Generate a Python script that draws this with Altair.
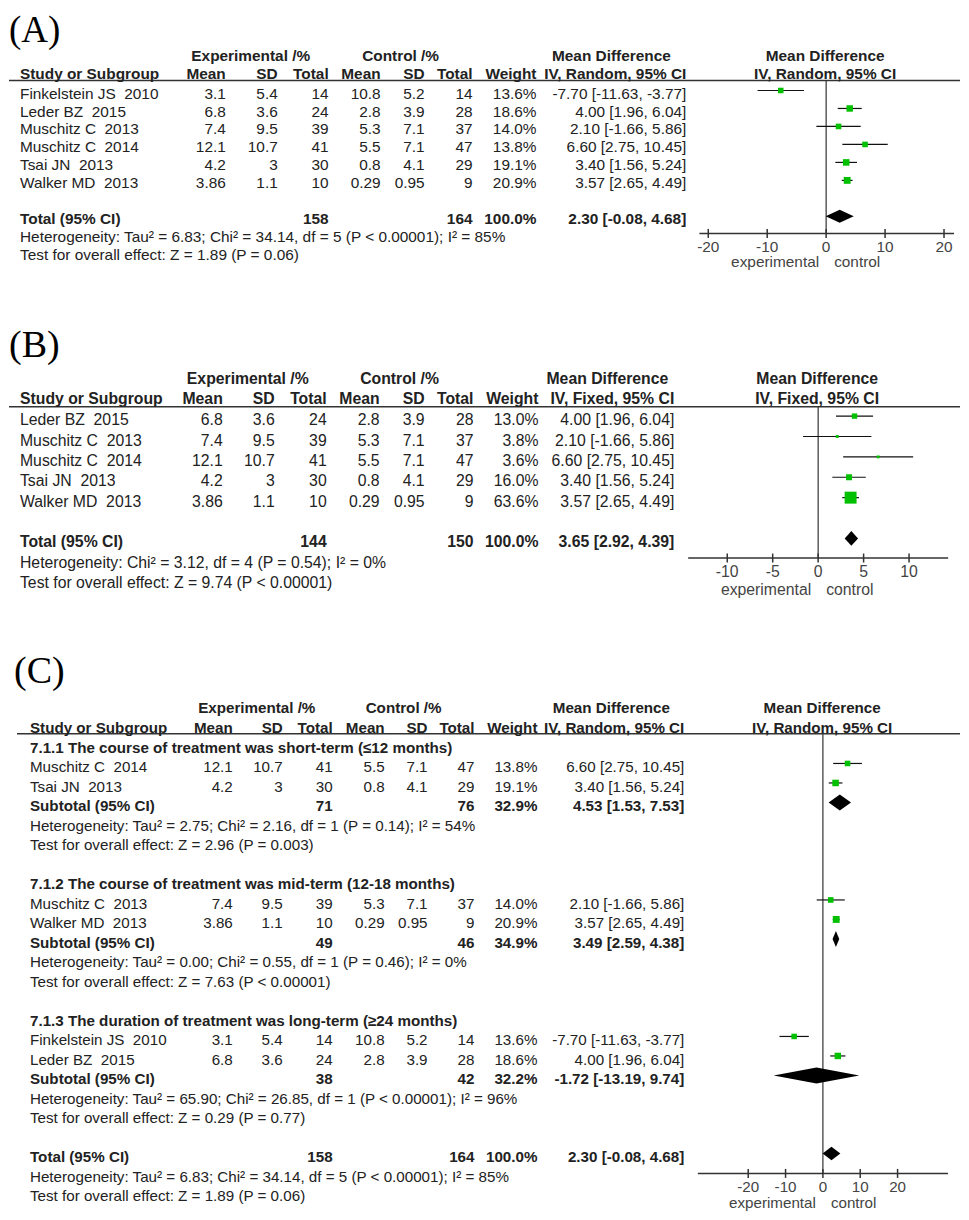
import altair as alt
import pandas as pd

# ---------------- values ----------------
NB = "\u00a0"
STUDY = ["Finkelstein JS" + NB + " 2010", "Leder BZ" + NB + " 2015", "Muschitz C" + NB + " 2013",
         "Muschitz C" + NB + " 2014", "Tsai JN" + NB + " 2013", "Walker MD" + NB + " 2013"]
EXP_MEAN = ["3.1", "6.8", "7.4", "12.1", "4.2", "3.86"]
EXP_SD = ["5.4", "3.6", "9.5", "10.7", "3", "1.1"]
EXP_N = [14, 24, 39, 41, 30, 10]
CTL_MEAN = ["10.8", "2.8", "5.3", "5.5", "0.8", "0.29"]
CTL_SD = ["5.2", "3.9", "7.1", "7.1", "4.1", "0.95"]
CTL_N = [14, 28, 37, 47, 29, 9]
MD = [-7.70, 4.00, 2.10, 6.60, 3.40, 3.57]
MD_LO = [-11.63, 1.96, -1.66, 2.75, 1.56, 2.65]
MD_HI = [-3.77, 6.04, 5.86, 10.45, 5.24, 4.49]
WEIGHT_RANDOM = [13.6, 18.6, 14.0, 13.8, 19.1, 20.9]

ORDER_A = [0, 1, 2, 3, 4, 5]
ORDER_B = [1, 2, 3, 4, 5]
WEIGHT_FIXED_B = [13.0, 3.8, 3.6, 16.0, 63.6]

TOTAL_A = dict(en=158, cn=164, w=100.0, md=2.30, lo=-0.08, hi=4.68)
HET_A = "Heterogeneity: Tau² = 6.83; Chi² = 34.14, df = 5 (P < 0.00001); I² = 85%"
TEST_A = "Test for overall effect: Z = 1.89 (P = 0.06)"

TOTAL_B = dict(en=144, cn=150, w=100.0, md=3.65, lo=2.92, hi=4.39)
HET_B = "Heterogeneity: Chi² = 3.12, df = 4 (P = 0.54); I² = 0%"
TEST_B = "Test for overall effect: Z = 9.74 (P < 0.00001)"

SUB_TITLE_C = ["7.1.1 The course of treatment was short-term (≤12 months)",
               "7.1.2 The course of treatment was mid-term (12-18 months)",
               "7.1.3 The duration of treatment was long-term (≥24 months)"]
SUB_MEMBERS_C = [[3, 4], [2, 5], [0, 1]]
SUB_EN_C = [71, 49, 38]
SUB_CN_C = [76, 46, 42]
SUB_W_C = [32.9, 34.9, 32.2]
SUB_MD_C = [4.53, 3.49, -1.72]
SUB_LO_C = [1.53, 2.59, -13.19]
SUB_HI_C = [7.53, 4.38, 9.74]
SUB_HET_C = ["Heterogeneity: Tau² = 2.75; Chi² = 2.16, df = 1 (P = 0.14); I² = 54%",
             "Heterogeneity: Tau² = 0.00; Chi² = 0.55, df = 1 (P = 0.46); I² = 0%",
             "Heterogeneity: Tau² = 65.90; Chi² = 26.85, df = 1 (P < 0.00001); I² = 96%"]
SUB_TEST_C = ["Test for overall effect: Z = 2.96 (P = 0.003)",
              "Test for overall effect: Z = 7.63 (P < 0.00001)",
              "Test for overall effect: Z = 0.29 (P = 0.77)"]

TICKS_20 = [-20, -10, 0, 10, 20]
TICKS_10 = [-10, -5, 0, 5, 10]

# ---------------- styling ----------------
SANS = "Liberation Sans"
SERIF = "Liberation Serif"
INK = "#222222"
GREY = "#444444"
GREEN = "#00C000"
M = 8  # page margin


def fmt_ci(m, lo, hi):
    return f"{m:.2f} [{lo:.2f}, {hi:.2f}]"


def cell(row, col, text, bold=False):
    return dict(row=row, col=col, text=str(text), bold=bold)


def study_cells(i, row, w):
    return [cell(row, "study", STUDY[i]), cell(row, "em", EXP_MEAN[i]),
            cell(row, "esd", EXP_SD[i]), cell(row, "en", EXP_N[i]),
            cell(row, "cm", CTL_MEAN[i]), cell(row, "csd", CTL_SD[i]),
            cell(row, "cn", CTL_N[i]), cell(row, "w", f"{w:.1f}%"),
            cell(row, "ci", fmt_ci(MD[i], MD_LO[i], MD_HI[i]))]


def pooled_cells(row, name, en, cn, w, md, lo, hi):
    return [cell(row, "study", name, True), cell(row, "en", en, True),
            cell(row, "cn", cn, True), cell(row, "w", f"{w:.1f}%", True),
            cell(row, "ci", fmt_ci(md, lo, hi), True)]


def header_cells(r1, r2, method):
    return [cell(r1, "h_exp", "Experimental /%", True), cell(r1, "h_ctl", "Control /%", True),
            cell(r1, "h_md", "Mean Difference", True), cell(r1, "h_f", "Mean Difference", True),
            cell(r2, "study", "Study or Subgroup", True), cell(r2, "em", "Mean", True),
            cell(r2, "esd", "SD", True), cell(r2, "en", "Total", True),
            cell(r2, "cm", "Mean", True), cell(r2, "csd", "SD", True),
            cell(r2, "cn", "Total", True), cell(r2, "w", "Weight", True),
            cell(r2, "ci", method, True), cell(r2, "h_f", method, True)]


def build_panel(p):
    top, r0y, dy = p["top"], p["row0"], p["step"]

    def R(page_y):
        return (page_y - r0y) / dy

    ys = alt.Scale(domain=[0, 10], range=[r0y - top, r0y - top + 10 * dy])
    xs = alt.Scale(domain=list(p["xdom"]), range=[p["xpx"][0] - M, p["xpx"][1] - M])
    one = pd.DataFrame({"k": [0]})
    fs = p["fs"]
    layers = []

    # panel letter
    layers.append(alt.Chart(one).mark_text(
        align="left", baseline="alphabetic", font=SERIF, fontSize=p["label_fs"], color="#000",
        text=p["label"]).encode(
        x=alt.value(p["label_x"] - M),
        y=alt.YDatum(R(p["label_base"]), scale=ys, axis=None)))

    # header rule
    layers.append(alt.Chart(one).mark_rule(color="#333333", strokeWidth=1.5).encode(
        x=alt.value(p["line_x"][0] - M), x2=alt.value(p["line_x"][1] - M),
        y=alt.YDatum(R(p["line_y"]), scale=ys, axis=None)))

    # table text
    cells = pd.DataFrame(header_cells(R(p["h1_y"]), R(p["h2_y"]), p["method"]) + p["cells"])
    for (col, bold), sub in cells.groupby(["col", "bold"], sort=False):
        xp, al = p["cols"][col]
        layers.append(alt.Chart(sub[["row", "text"]]).mark_text(
            align=al, baseline="middle", font=SANS, fontSize=fs,
            fontWeight="bold" if bold else "normal", color=INK).encode(
            x=alt.value(xp - M),
            y=alt.Y("row:Q", scale=ys, axis=None),
            text="text:N"))

    # zero line
    layers.append(alt.Chart(one).mark_rule(color="#333333", strokeWidth=1.2).encode(
        x=alt.XDatum(0, scale=xs, axis=None),
        y=alt.YDatum(R(p["line_y"]), scale=ys, axis=None),
        y2=alt.Y2Datum(R(p["axis_y"]))))

    # axis line, ticks, labels
    layers.append(alt.Chart(one).mark_rule(color="#333333", strokeWidth=1.5).encode(
        x=alt.XDatum(p["axis_dom"][0], scale=xs, axis=None),
        x2=alt.X2Datum(p["axis_dom"][1]),
        y=alt.YDatum(R(p["axis_y"]), scale=ys, axis=None)))
    ticks = pd.DataFrame({"v": p["ticks"], "lab": [str(t) for t in p["ticks"]]})
    layers.append(alt.Chart(ticks).mark_rule(color="#333333", strokeWidth=1.5).encode(
        x=alt.X("v:Q", scale=xs, axis=None),
        y=alt.YDatum(R(p["axis_y"] - 4.5), scale=ys, axis=None),
        y2=alt.Y2Datum(R(p["axis_y"] + 4.5))))
    layers.append(alt.Chart(ticks).mark_text(
        baseline="middle", font=SANS, fontSize=fs, color=GREY).encode(
        x=alt.X("v:Q", scale=xs, axis=None),
        y=alt.YDatum(R(p["ticklab_y"]), scale=ys, axis=None),
        text="lab:N"))
    for txt, al, dx in [("experimental", "right", -7), ("control", "left", 8)]:
        layers.append(alt.Chart(one).mark_text(
            align=al, dx=dx, baseline="middle", font=SANS, fontSize=fs, color=GREY,
            text=txt).encode(
            x=alt.XDatum(0, scale=xs, axis=None),
            y=alt.YDatum(R(p["exp_y"]), scale=ys, axis=None)))

    # study CIs and weighted squares
    fr = pd.DataFrame(p["forest"])
    base = alt.Chart(fr).transform_calculate(ym=f"datum.row - {p['shift']}")
    layers.append(base.mark_rule(color="#111111", strokeWidth=1.2).encode(
        x=alt.X("lo:Q", scale=xs, axis=None), x2="hi:Q",
        y=alt.Y("ym:Q", scale=ys, axis=None)))
    layers.append(base.mark_square(filled=True, color=GREEN, opacity=1).encode(
        x=alt.X("md:Q", scale=xs, axis=None),
        y=alt.Y("ym:Q", scale=ys, axis=None),
        size=alt.Size("w:Q", scale=alt.Scale(domain=[0, 100], range=[0, p["smax"]]),
                      legend=None)))

    # pooled diamonds
    dv = []
    for k, d in enumerate(p["diamonds"]):
        rc = d["row"] - p["shift"]
        hh = d["half"] / dy
        dv += [dict(id=k, x=d["lo"], ya=rc, yb=rc),
               dict(id=k, x=d["md"], ya=rc - hh, yb=rc + hh),
               dict(id=k, x=d["hi"], ya=rc, yb=rc)]
    layers.append(alt.Chart(pd.DataFrame(dv)).mark_area(
        color="#000000", opacity=1, interpolate="linear").encode(
        x=alt.X("x:Q", scale=xs, axis=None),
        y=alt.Y("ya:Q", scale=ys, axis=None, stack=None),
        y2="yb:Q",
        detail="id:N"))

    return alt.layer(*layers).properties(width=953, height=p["height"])


# ---------------- panel A ----------------
cells_A, forest_A = [], []
for r, i in enumerate(ORDER_A):
    cells_A += study_cells(i, r, WEIGHT_RANDOM[i])
    forest_A.append(dict(row=r, md=MD[i], lo=MD_LO[i], hi=MD_HI[i], w=WEIGHT_RANDOM[i]))
cells_A += pooled_cells(7, "Total (95% CI)", **TOTAL_A)
cells_A += [cell(8, "study", HET_A), cell(9, "study", TEST_A)]

panel_A = dict(
    label="(A)", label_x=8, label_base=41.5, label_fs=37, top=8, height=310, row0=93, step=18,
    fs=15.4, method="IV, Random, 95% CI",
    cols={"study": (19, "left"), "em": (225, "right"), "esd": (277, "right"),
          "en": (328, "right"), "cm": (380, "right"), "csd": (424, "right"),
          "cn": (472, "right"), "w": (536, "right"), "ci": (686, "right"),
          "h_exp": (250, "center"), "h_ctl": (400, "center"), "h_md": (611, "center"),
          "h_f": (825, "center")},
    h1_y=55, h2_y=73, line_y=80, line_x=(8, 960),
    xdom=(-20, 20), xpx=(708, 944), axis_dom=(-21.5, 21.7), ticks=TICKS_20,
    axis_y=233, ticklab_y=247, exp_y=262, shift=0.17, smax=225,
    cells=cells_A, forest=forest_A,
    diamonds=[dict(row=7, md=TOTAL_A["md"], lo=TOTAL_A["lo"], hi=TOTAL_A["hi"], half=6.5)],
)

# ---------------- panel B ----------------
cells_B, forest_B = [], []
for r, (i, w) in enumerate(zip(ORDER_B, WEIGHT_FIXED_B)):
    cells_B += study_cells(i, r, w)
    forest_B.append(dict(row=r, md=MD[i], lo=MD_LO[i], hi=MD_HI[i], w=w))
cells_B += pooled_cells(6, "Total (95% CI)", **TOTAL_B)
cells_B += [cell(7, "study", HET_B), cell(8, "study", TEST_B)]

panel_B = dict(
    label="(B)", label_x=8, label_base=357, label_fs=38, top=318, height=322, row0=420,
    step=20.4, fs=15.8, method="IV, Fixed, 95% CI",
    cols={"study": (19, "left"), "em": (222, "right"), "esd": (274, "right"),
          "en": (326, "right"), "cm": (379, "right"), "csd": (424, "right"),
          "cn": (473, "right"), "w": (538, "right"), "ci": (674, "right"),
          "h_exp": (247, "center"), "h_ctl": (399, "center"), "h_md": (607, "center"),
          "h_f": (817, "center")},
    h1_y=379, h2_y=399, line_y=406.5, line_x=(8, 960),
    xdom=(-10, 10), xpx=(727, 909), axis_dom=(-14.3, 14.3), ticks=TICKS_10,
    axis_y=558, ticklab_y=572, exp_y=590, shift=0.2, smax=353,
    cells=cells_B, forest=forest_B,
    diamonds=[dict(row=6, md=TOTAL_B["md"], lo=TOTAL_B["lo"], hi=TOTAL_B["hi"], half=7.3)],
)

# ---------------- panel C ----------------
cells_C, forest_C, diamonds_C = [], [], []
for g in range(3):
    b = 7 * g
    cells_C.append(cell(b, "study", SUB_TITLE_C[g], True))
    for j, i in enumerate(SUB_MEMBERS_C[g]):
        cells_C += study_cells(i, b + 1 + j, WEIGHT_RANDOM[i])
        forest_C.append(dict(row=b + 1 + j, md=MD[i], lo=MD_LO[i], hi=MD_HI[i], w=WEIGHT_RANDOM[i]))
    cells_C += pooled_cells(b + 3, "Subtotal (95% CI)", SUB_EN_C[g], SUB_CN_C[g], SUB_W_C[g],
                            SUB_MD_C[g], SUB_LO_C[g], SUB_HI_C[g])
    cells_C += [cell(b + 4, "study", SUB_HET_C[g]), cell(b + 5, "study", SUB_TEST_C[g])]
    diamonds_C.append(dict(row=b + 3, md=SUB_MD_C[g], lo=SUB_LO_C[g], hi=SUB_HI_C[g], half=8))
cells_C += pooled_cells(21, "Total (95% CI)", **TOTAL_A)
cells_C += [cell(22, "study", HET_A), cell(23, "study", TEST_A)]
diamonds_C.append(dict(row=21, md=TOTAL_A["md"], lo=TOTAL_A["lo"], hi=TOTAL_A["hi"], half=6.7))

panel_C = dict(
    label="(C)", label_x=13, label_base=683, label_fs=38, top=640, height=572, row0=748,
    step=19.52, fs=15.2, method="IV, Random, 95% CI",
    cols={"study": (29, "left"), "em": (232, "right"), "esd": (282, "right"),
          "en": (332, "right"), "cm": (384, "right"), "csd": (427, "right"),
          "cn": (474, "right"), "w": (537, "right"), "ci": (684, "right"),
          "h_exp": (256, "center"), "h_ctl": (403, "center"), "h_md": (611, "center"),
          "h_f": (822, "center")},
    h1_y=708, h2_y=728, line_y=734, line_x=(16, 960),
    xdom=(-20, 20), xpx=(748, 897.5), axis_dom=(-33.5, 33.5), ticks=TICKS_20,
    axis_y=1174, ticklab_y=1188, exp_y=1203.5, shift=0.2, smax=225,
    cells=cells_C, forest=forest_C, diamonds=diamonds_C,
)

chart = alt.vconcat(
    build_panel(panel_A), build_panel(panel_B), build_panel(panel_C),
    spacing=0, bounds="flush",
).properties(padding=0).configure_view(stroke=None)

chart.save("out.html", embed_options={"renderer": "svg", "actions": False})
